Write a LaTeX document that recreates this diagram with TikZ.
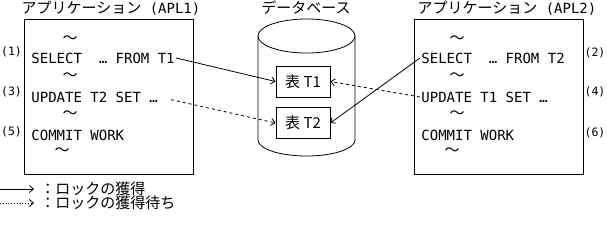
\documentclass[tikz,border=0pt]{standalone}
\usepackage{fontspec}
\setmainfont{Noto Sans CJK JP}
\newfontfamily\sqlfont{DejaVu Sans Mono}
\usetikzlibrary{arrows.meta,positioning}

\begin{document}
\begin{tikzpicture}[x=1pt,y=-1pt,line width=0.8pt,font=\fontsize{15}{17}\selectfont,
  stmt/.style={anchor=west,inner sep=1pt,font=\sqlfont\fontsize{14}{16}\selectfont},
  wave/.style={inner sep=0pt},
  num/.style={inner sep=0pt,font=\sqlfont\fontsize{11.5}{14}\selectfont},
  appbox/.style={draw,minimum width=169pt,minimum height=155pt,inner sep=0pt},
  tbl/.style={draw,minimum width=54pt,minimum height=31pt,inner sep=0pt},
  lock/.style={-{Straight Barb[length=4pt,width=7pt]}},
  wait/.style={lock,dashed}]
\useasboundingbox (0,0) rectangle (607,226);
% application APL1
\node (apl1title) at (111,8) {アプリケーション{\sqlfont\fontsize{14}{16}\selectfont\ (APL1)}};
\node[appbox] (apl1) at (108.5,96.5) {};
\node[stmt] (sel1) at (30,58) {SELECT\ \ …\ FROM T1};
\node[stmt] (upd1) at (30,97) {UPDATE T2 SET …};
\node[stmt] (com1) at (30,135) {COMMIT WORK};
\foreach \y/\n in {40/a,77/b,115/c} \node[wave] (w1\n) at (70,\y) {～};
\node[wave] (w1d) at (62,152) {～};
\node[num] (n1) at (11.5,52) {(1)};
\node[num] (n3) at (11.5,92) {(3)};
\node[num] (n5) at (11.5,132) {(5)};
% database
\node (dbtitle) at (306,8) {データベース};
\draw (306.5,36) ellipse [x radius=48.5,y radius=17];
\draw (258,36) -- (258,140) arc[start angle=180,end angle=0,x radius=48.5,y radius=16] -- (355,36);
\node[tbl] (t1) at (303,81.5) {表 T1};
\node[tbl] (t2) at (303,123) {表 T2};
% application APL2
\node (apl2title) at (507,8) {アプリケーション{\sqlfont\fontsize{14}{16}\selectfont\ (APL2)}};
\node[appbox] (apl2) at (499,96.5) {};
\node[stmt] (sel2) at (420,58) {SELECT\ \ …\ FROM T2};
\node[stmt] (upd2) at (420,97) {UPDATE T1 SET …};
\node[stmt] (com2) at (420,135) {COMMIT WORK};
\foreach \y/\n in {40/a,77/b,115/c} \node[wave] (w2\n) at (457,\y) {～};
\node[wave] (w2d) at (452,152) {～};
\node[num] (n2) at (595,53) {(2)};
\node[num] (n4) at (595,92) {(4)};
\node[num] (n6) at (595,133) {(6)};
% locks
\draw[lock] (sel1.east) -- (t1.west);
\draw[wait,shorten <=12pt] (upd1.east) -- (t2.west);
\draw[lock] (sel2.west) -- (t2.east);
\draw[wait] (upd2.west) -- (t1.east);
% legend
\coordinate (k1) at (0,189);
\coordinate (k2) at (0,203);
\node[anchor=west,inner sep=0pt] (k1txt) at (40,189) {：ロックの獲得};
\node[anchor=west,inner sep=0pt] (k2txt) at (40,203) {：ロックの獲得待ち};
\draw[lock,shorten >=6pt] (k1) -- (k1txt.west);
\draw[lock,dotted,shorten >=6pt] (k2) -- (k2txt.west);
\end{tikzpicture}
\end{document}
